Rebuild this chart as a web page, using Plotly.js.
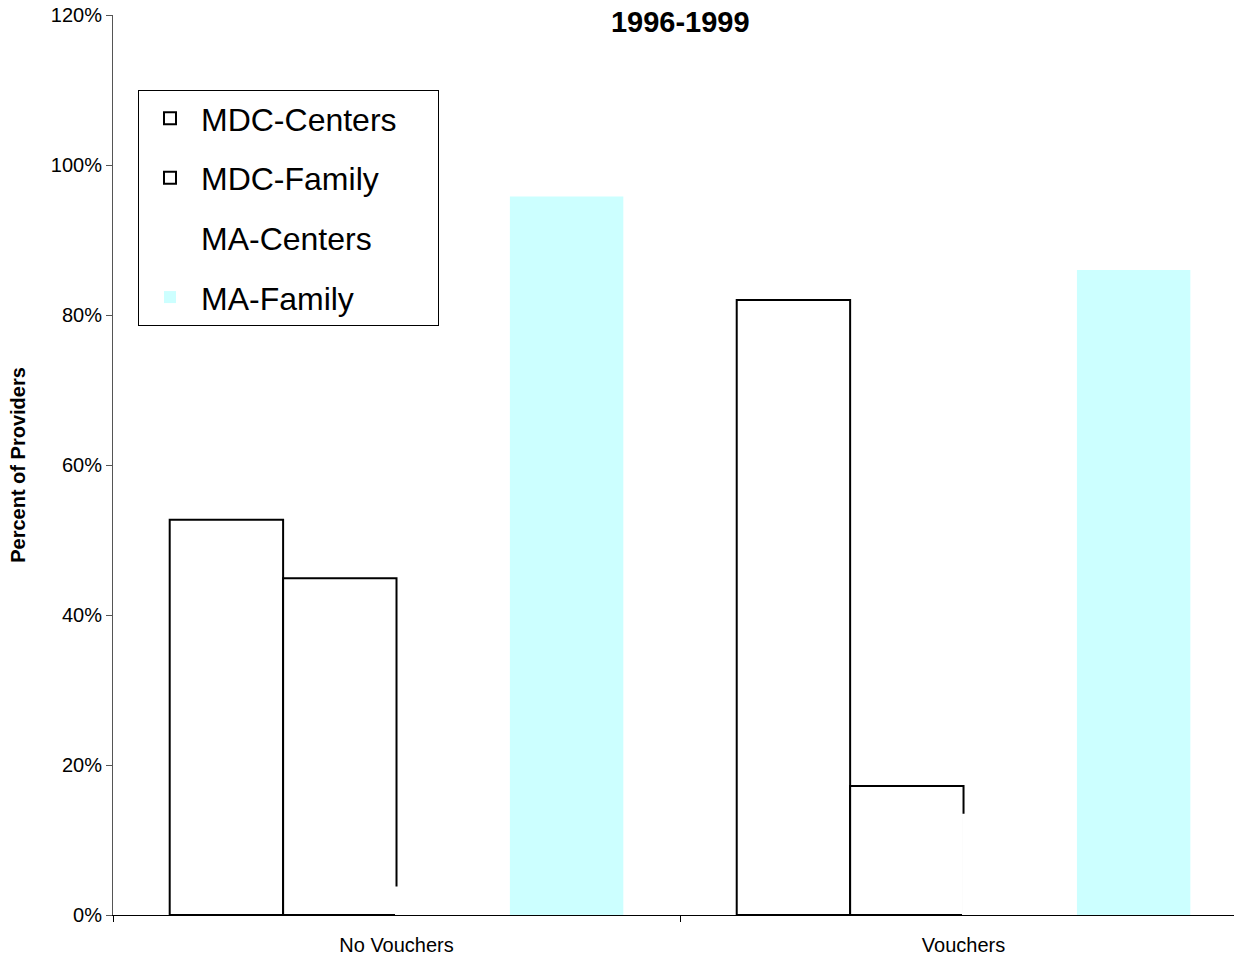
<!DOCTYPE html>
<html>
<head>
<meta charset="utf-8">
<script src="https://cdn.plot.ly/plotly-3.0.1.min.js"></script>
<style>html,body{margin:0;padding:0;background:#fff;}#chart{width:1234px;height:959px;}</style>
</head>
<body>
<div id="chart"></div>
<script>
const categories = ["No Vouchers", "Vouchers"];
const seriesNames = ["MDC-Centers", "MDC-Family", "MA-Centers", "MA-Family"];
const mdcCenters = [52.7, 82.0];
const mdcFamily = [44.9, 17.2];
const maCenters = [3.6, 13.3];
const maFamily = [95.8, 86.0];

const FONT = "Liberation Sans, Arial, sans-serif";
const PAD = "\u00a0\u00a0\u00a0\u00a0";

const traces = [
  {type: "bar", name: seriesNames[0] + PAD, x: categories, y: mdcCenters, legendgroup: "a",
   marker: {color: "#ffffff", line: {color: "#000000", width: 2}}},
  {type: "bar", name: seriesNames[1], x: categories, y: mdcFamily, legendgroup: "b",
   marker: {color: "#ffffff", line: {color: "#000000", width: 2}}},
  {type: "bar", name: seriesNames[2], x: categories, y: maCenters, legendgroup: "c",
   marker: {color: "#ffffff", line: {color: "#ffffff", width: 3}}},
  {type: "bar", name: seriesNames[3], x: categories, y: maFamily, legendgroup: "d",
   marker: {color: "#ccffff", line: {color: "#ccffff", width: 0}}}
];

const layout = {
  width: 1234, height: 959,
  margin: {l: 113, r: 0, t: 15, b: 44},
  paper_bgcolor: "#ffffff", plot_bgcolor: "#ffffff",
  font: {family: FONT, color: "#000000"},
  barmode: "group", bargap: 0.2, bargroupgap: 0,
  hovermode: false,
  title: {text: "<b>1996-1999</b>", font: {family: FONT, size: 29, color: "#000"},
          x: 0.506, xref: "paper", xanchor: "center", y: 0.977, yref: "container", yanchor: "middle"},
  xaxis: {type: "category", range: [-0.5, 1.477], tickson: "boundaries",
          ticks: "outside", ticklen: 6, tickcolor: "#000", tickwidth: 1,
          showline: true, linecolor: "#000", linewidth: 1, showgrid: false, zeroline: false,
          ticklabelstandoff: 12,
          tickfont: {family: FONT, size: 20, color: "#000"}},
  yaxis: {range: [0, 120], dtick: 20, tick0: 0, ticksuffix: "%",
          ticks: "outside", ticklen: 6, tickcolor: "#555", tickwidth: 1,
          showline: true, linecolor: "#555", linewidth: 1, showgrid: false, zeroline: false,
          tickfont: {family: FONT, size: 20, color: "#000"},
          title: {text: "<b>Percent of Providers</b>", standoff: 19,
                  font: {family: FONT, size: 20, color: "#000"}}},
  showlegend: true,
  legend: {x: 0.0223, y: 0.9167, xanchor: "left", yanchor: "top",
           bordercolor: "#000", borderwidth: 1, bgcolor: "#ffffff",
           font: {family: FONT, size: 32, color: "#000"},
           traceorder: "grouped", tracegroupgap: 15, itemwidth: 52}
};

Plotly.newPlot("chart", traces, layout, {displayModeBar: false, staticPlot: true});
</script>
</body>
</html>
